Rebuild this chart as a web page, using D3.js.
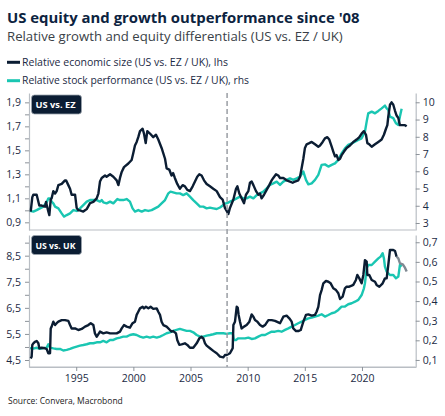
<!DOCTYPE html>
<html>
<head>
<meta charset="utf-8">
<script src="https://cdn.jsdelivr.net/npm/d3@7"></script>
<style>
  body { margin: 0; background: #fff; }
  svg { display: block; }
  text { font-family: "Open Sans", "Noto Sans", sans-serif; }
</style>
</head>
<body>
<script>
const width = 445;
const height = 416;

// colours
const navy = "#0b1d33";
const teal = "#1ac6b2";
const axisGrey = "#b9bec4";

// US vs EZ, relative economic size (lhs)
const ezSize = [
  [1991.02, 0.99], [1991.16, 1.11], [1991.25, 1.13], [1991.54, 1.13], [1991.77, 1.04], [1991.98, 1.04],
  [1992.27, 1.03], [1992.36, 1.07], [1992.56, 0.99], [1992.65, 0.96], [1992.77, 1.09], [1992.85, 1.10],
  [1993.00, 1.16], [1993.15, 1.14], [1993.29, 1.16], [1993.44, 1.21], [1993.73, 1.22], [1994.02, 1.25],
  [1994.11, 1.25], [1994.31, 1.21], [1994.46, 1.18], [1994.60, 1.13], [1994.90, 1.13], [1995.04, 1.02],
  [1995.19, 1.00], [1995.33, 1.00], [1995.62, 0.99], [1995.77, 1.00], [1995.92, 1.01], [1996.21, 1.06],
  [1996.50, 1.07], [1996.79, 1.10], [1996.94, 1.14], [1997.08, 1.24], [1997.23, 1.27], [1997.52, 1.29],
  [1997.66, 1.28], [1997.96, 1.30], [1998.25, 1.28], [1998.54, 1.25], [1998.69, 1.21], [1998.83, 1.27],
  [1998.98, 1.32], [1999.18, 1.36], [1999.56, 1.39], [1999.85, 1.42], [2000.00, 1.48], [2000.14, 1.54],
  [2000.29, 1.57], [2000.43, 1.61], [2000.58, 1.66], [2000.81, 1.68], [2000.93, 1.64], [2001.08, 1.56],
  [2001.22, 1.66], [2001.45, 1.64], [2001.74, 1.61], [2001.98, 1.63], [2002.18, 1.59], [2002.47, 1.52],
  [2002.77, 1.43], [2002.91, 1.35], [2003.14, 1.34], [2003.34, 1.29], [2003.48, 1.31], [2003.63, 1.27],
  [2003.84, 1.22], [2004.07, 1.18], [2004.31, 1.21], [2004.51, 1.20], [2004.72, 1.17], [2004.95, 1.16],
  [2005.19, 1.20], [2005.39, 1.24], [2005.59, 1.28], [2005.77, 1.30], [2005.97, 1.29], [2006.18, 1.25],
  [2006.41, 1.22], [2006.70, 1.20], [2006.99, 1.18], [2007.29, 1.16], [2007.58, 1.11], [2007.81, 1.09],
  [2008.01, 1.02], [2008.31, 0.97], [2008.45, 1.02], [2008.75, 1.09], [2008.98, 1.18], [2009.10, 1.20],
  [2009.27, 1.14], [2009.47, 1.10], [2009.68, 1.06], [2009.85, 1.13], [2010.06, 1.16], [2010.20, 1.23],
  [2010.35, 1.24], [2010.50, 1.21], [2010.73, 1.16], [2010.93, 1.13], [2011.08, 1.14], [2011.22, 1.10],
  [2011.43, 1.13], [2011.66, 1.17], [2011.89, 1.21], [2012.10, 1.25], [2012.24, 1.27], [2012.48, 1.30],
  [2012.68, 1.29], [2012.83, 1.27], [2013.12, 1.27], [2013.41, 1.25], [2013.70, 1.24], [2013.94, 1.23],
  [2014.14, 1.24], [2014.43, 1.25], [2014.58, 1.28], [2014.72, 1.35], [2014.87, 1.43], [2015.01, 1.52],
  [2015.16, 1.55], [2015.39, 1.56], [2015.60, 1.57], [2015.89, 1.55], [2016.18, 1.53], [2016.33, 1.54],
  [2016.56, 1.57], [2016.76, 1.60], [2016.97, 1.61], [2017.14, 1.59], [2017.35, 1.53], [2017.49, 1.49],
  [2017.64, 1.45], [2017.78, 1.46], [2017.93, 1.42], [2018.08, 1.43], [2018.22, 1.46], [2018.43, 1.49],
  [2018.66, 1.52], [2018.95, 1.54], [2019.24, 1.57], [2019.53, 1.59], [2019.77, 1.61], [2019.97, 1.64],
  [2020.17, 1.66], [2020.35, 1.63], [2020.47, 1.56], [2020.64, 1.55], [2020.85, 1.53], [2021.14, 1.55],
  [2021.43, 1.57], [2021.72, 1.59], [2021.92, 1.63], [2022.10, 1.68], [2022.22, 1.71], [2022.30, 1.78],
  [2022.45, 1.88], [2022.59, 1.90], [2022.74, 1.88], [2022.89, 1.83], [2023.03, 1.79], [2023.18, 1.77],
  [2023.32, 1.71], [2023.56, 1.71], [2023.76, 1.71], [2023.91, 1.70]
];

// US vs EZ, relative stock performance (rhs)
const ezStock = [
  [1990.96, 3.70], [1991.25, 3.66], [1991.54, 3.75], [1991.83, 3.85], [1992.12, 3.95], [1992.42, 4.20],
  [1992.56, 4.43], [1992.71, 4.43], [1992.85, 4.24], [1993.00, 4.14], [1993.15, 3.95], [1993.44, 3.85],
  [1993.73, 3.56], [1993.93, 3.37], [1994.17, 3.46], [1994.46, 3.56], [1994.75, 3.75], [1995.04, 3.70],
  [1995.33, 3.85], [1995.62, 4.04], [1995.92, 4.24], [1996.21, 4.33], [1996.50, 4.33], [1996.79, 4.33],
  [1997.08, 4.24], [1997.23, 4.33], [1997.37, 4.20], [1997.66, 4.14], [1997.96, 4.24], [1998.25, 4.14],
  [1998.39, 4.24], [1998.60, 4.39], [1998.83, 4.33], [1999.12, 4.33], [1999.41, 4.39], [1999.70, 4.24],
  [1999.93, 3.85], [2000.14, 3.66], [2000.43, 3.75], [2000.73, 3.66], [2001.02, 3.75], [2001.31, 3.70],
  [2001.60, 3.75], [2001.89, 3.85], [2002.18, 3.95], [2002.47, 4.14], [2002.77, 4.33], [2003.06, 4.72],
  [2003.25, 4.82], [2003.48, 4.78], [2003.78, 4.72], [2004.07, 4.72], [2004.36, 4.62], [2004.66, 4.72],
  [2004.95, 4.53], [2005.24, 4.33], [2005.54, 4.14], [2005.83, 3.95], [2006.12, 3.95], [2006.41, 3.85],
  [2006.70, 3.89], [2006.99, 3.85], [2007.29, 3.81], [2007.58, 3.90], [2007.87, 4.04], [2008.01, 4.14],
  [2008.16, 4.14], [2008.45, 4.24], [2008.75, 4.33], [2009.04, 4.43], [2009.33, 4.53], [2009.62, 4.43],
  [2009.91, 4.43], [2010.20, 4.53], [2010.50, 4.43], [2010.79, 4.62], [2011.08, 4.72], [2011.37, 4.82],
  [2011.66, 5.01], [2011.95, 5.21], [2012.24, 5.30], [2012.54, 5.40], [2012.83, 5.21], [2013.12, 5.40],
  [2013.41, 5.50], [2013.70, 5.59], [2013.99, 5.50], [2014.29, 5.59], [2014.58, 5.69], [2014.87, 5.98],
  [2015.10, 5.50], [2015.31, 5.24], [2015.60, 5.30], [2015.89, 5.50], [2016.18, 5.79], [2016.47, 6.37],
  [2016.76, 6.40], [2017.06, 6.27], [2017.35, 6.37], [2017.64, 6.46], [2017.93, 6.66], [2018.22, 7.04],
  [2018.51, 7.33], [2018.80, 7.53], [2019.10, 7.62], [2019.39, 7.72], [2019.68, 7.82], [2019.97, 7.91],
  [2020.26, 8.30], [2020.41, 8.88], [2020.55, 9.36], [2020.85, 9.46], [2021.14, 9.36], [2021.43, 9.50],
  [2021.72, 9.65], [2022.01, 9.81], [2022.16, 9.65], [2022.30, 9.56], [2022.45, 9.17], [2022.74, 9.08],
  [2022.97, 8.78], [2023.18, 8.69], [2023.32, 9.17], [2023.47, 9.62]
];

// US vs UK, relative economic size (lhs)
const ukSize = [
  [1991.02, 4.56], [1991.10, 4.63], [1991.16, 5.08], [1991.25, 5.14], [1991.40, 5.20], [1991.54, 5.23],
  [1991.69, 5.14], [1991.77, 4.95], [1991.98, 4.97], [1992.27, 4.95], [1992.42, 4.92], [1992.56, 4.76],
  [1992.71, 4.76], [1992.77, 5.71], [1992.85, 5.78], [1993.00, 5.97], [1993.15, 5.84], [1993.29, 5.91],
  [1993.44, 5.97], [1993.73, 6.03], [1994.02, 6.03], [1994.31, 6.00], [1994.46, 5.84], [1994.60, 5.71],
  [1994.90, 5.71], [1995.19, 5.65], [1995.48, 5.69], [1995.77, 5.78], [1996.06, 5.84], [1996.27, 5.91],
  [1996.50, 5.84], [1996.64, 5.52], [1996.79, 5.39], [1997.08, 5.59], [1997.37, 5.52], [1997.66, 5.56],
  [1997.96, 5.52], [1998.25, 5.52], [1998.54, 5.52], [1998.83, 5.59], [1998.98, 5.71], [1999.18, 5.84],
  [1999.41, 5.78], [1999.70, 5.74], [1999.93, 5.91], [2000.14, 5.97], [2000.29, 6.23], [2000.43, 6.35],
  [2000.58, 6.48], [2000.81, 6.54], [2000.93, 6.48], [2001.10, 6.54], [2001.31, 6.48], [2001.51, 6.54],
  [2001.74, 6.46], [2002.04, 6.48], [2002.18, 6.35], [2002.33, 6.23], [2002.47, 5.97], [2002.62, 5.84],
  [2002.91, 5.78], [2003.20, 5.65], [2003.34, 5.59], [2003.48, 5.61], [2003.73, 5.52], [2003.84, 5.27],
  [2004.02, 5.08], [2004.22, 5.10], [2004.51, 5.14], [2004.72, 5.08], [2004.95, 4.97], [2005.24, 4.97],
  [2005.54, 5.14], [2005.77, 5.33], [2005.97, 5.39], [2006.12, 5.33], [2006.27, 5.14], [2006.41, 5.05],
  [2006.70, 4.95], [2006.99, 4.85], [2007.29, 4.76], [2007.58, 4.63], [2007.87, 4.60], [2008.01, 4.69],
  [2008.16, 4.69], [2008.45, 4.76], [2008.60, 4.88], [2008.69, 4.95], [2008.75, 5.84], [2008.89, 5.97],
  [2009.04, 6.54], [2009.13, 6.51], [2009.21, 6.23], [2009.33, 5.97], [2009.47, 5.71], [2009.68, 5.78],
  [2009.91, 5.84], [2010.15, 5.97], [2010.35, 6.25], [2010.50, 6.16], [2010.64, 6.03], [2010.85, 5.97],
  [2011.08, 5.84], [2011.31, 5.78], [2011.52, 5.84], [2011.81, 6.03], [2012.10, 6.03], [2012.39, 6.00],
  [2012.68, 5.94], [2012.83, 5.91], [2013.12, 6.16], [2013.41, 6.20], [2013.64, 6.10], [2013.85, 5.97],
  [2013.99, 5.71], [2014.23, 5.61], [2014.43, 5.61], [2014.64, 5.65], [2014.87, 5.97], [2015.10, 6.23],
  [2015.31, 6.25], [2015.60, 6.20], [2015.89, 6.23], [2016.03, 6.35], [2016.18, 6.54], [2016.33, 6.99],
  [2016.47, 7.18], [2016.62, 7.44], [2016.85, 7.53], [2017.06, 7.50], [2017.26, 7.44], [2017.49, 7.25],
  [2017.73, 7.18], [2017.93, 7.06], [2018.08, 6.84], [2018.31, 6.93], [2018.51, 7.25], [2018.66, 7.31],
  [2018.89, 7.31], [2019.10, 7.35], [2019.24, 7.38], [2019.47, 7.57], [2019.59, 7.76], [2019.77, 7.63],
  [2019.97, 7.44], [2020.12, 7.76], [2020.26, 8.33], [2020.41, 8.27], [2020.47, 7.76], [2020.64, 7.76],
  [2020.85, 7.57], [2021.14, 7.50], [2021.28, 7.38], [2021.52, 7.31], [2021.81, 7.44], [2022.01, 7.63],
  [2022.16, 7.63], [2022.30, 8.14], [2022.45, 8.72], [2022.74, 8.72], [2022.89, 8.68], [2023.03, 8.46],
  [2023.18, 8.40], [2023.32, 8.21], [2023.56, 8.17], [2023.76, 8.04], [2023.91, 7.89]
];
const ukSizeGreyFrom = 2023.03;

// US vs UK, relative stock performance (rhs)
const ukStock = [
  [1990.96, 0.160], [1991.25, 0.158], [1991.54, 0.162], [1991.83, 0.157], [1992.12, 0.160], [1992.42, 0.163],
  [1992.56, 0.180], [1992.71, 0.163], [1993.00, 0.159], [1993.29, 0.156], [1993.58, 0.156], [1993.87, 0.148],
  [1994.17, 0.151], [1994.46, 0.156], [1994.75, 0.163], [1995.04, 0.168], [1995.33, 0.173], [1995.62, 0.176],
  [1995.92, 0.180], [1996.21, 0.185], [1996.50, 0.185], [1996.79, 0.190], [1997.08, 0.190], [1997.37, 0.197],
  [1997.66, 0.190], [1997.96, 0.202], [1998.25, 0.202], [1998.54, 0.210], [1998.83, 0.214], [1999.12, 0.219],
  [1999.41, 0.219], [1999.70, 0.227], [2000.00, 0.231], [2000.29, 0.227], [2000.58, 0.219], [2000.87, 0.214],
  [2001.16, 0.219], [2001.45, 0.214], [2001.74, 0.219], [2002.04, 0.214], [2002.33, 0.219], [2002.62, 0.227],
  [2002.91, 0.236], [2003.20, 0.241], [2003.48, 0.248], [2003.78, 0.253], [2004.07, 0.258], [2004.36, 0.253],
  [2004.66, 0.248], [2004.95, 0.248], [2005.24, 0.241], [2005.54, 0.227], [2005.83, 0.219], [2006.12, 0.219],
  [2006.41, 0.224], [2006.70, 0.227], [2006.99, 0.231], [2007.29, 0.236], [2007.58, 0.236], [2007.87, 0.236],
  [2008.16, 0.233], [2008.45, 0.236], [2008.69, 0.236], [2008.80, 0.202], [2008.98, 0.202], [2009.18, 0.210],
  [2009.47, 0.210], [2009.77, 0.210], [2010.06, 0.214], [2010.35, 0.207], [2010.64, 0.210], [2010.93, 0.219],
  [2011.22, 0.227], [2011.52, 0.227], [2011.81, 0.236], [2012.10, 0.244], [2012.39, 0.244], [2012.68, 0.248],
  [2012.97, 0.244], [2013.27, 0.253], [2013.56, 0.261], [2013.85, 0.270], [2014.14, 0.278], [2014.43, 0.287],
  [2014.72, 0.295], [2015.01, 0.304], [2015.31, 0.312], [2015.60, 0.316], [2015.89, 0.321], [2016.18, 0.326],
  [2016.47, 0.333], [2016.76, 0.321], [2017.06, 0.329], [2017.35, 0.338], [2017.64, 0.343], [2017.93, 0.355],
  [2018.22, 0.372], [2018.51, 0.372], [2018.80, 0.384], [2019.10, 0.389], [2019.39, 0.397], [2019.68, 0.406],
  [2019.97, 0.431], [2020.17, 0.465], [2020.26, 0.491], [2020.41, 0.567], [2020.55, 0.584], [2020.85, 0.584],
  [2021.14, 0.601], [2021.43, 0.618], [2021.63, 0.627], [2021.81, 0.644], [2021.92, 0.618], [2022.01, 0.576],
  [2022.16, 0.550], [2022.30, 0.542], [2022.45, 0.533], [2022.74, 0.533], [2022.97, 0.516], [2023.18, 0.525],
  [2023.32, 0.584], [2023.47, 0.576]
];

// ticks
const yearTicks = [1995, 2000, 2005, 2010, 2015, 2020];
const ezLeftTicks = [0.9, 1.0, 1.1, 1.2, 1.3, 1.4, 1.5, 1.6, 1.7, 1.8, 1.9];
const ezLeftLabels = [0.9, 1.1, 1.3, 1.5, 1.7, 1.9];
const ezRightTicks = [3, 4, 5, 6, 7, 8, 9, 10];
const ukLeftTicks = [4.5, 5.0, 5.5, 6.0, 6.5, 7.0, 7.5, 8.0, 8.5, 9.0];
const ukLeftLabels = [4.5, 5.5, 6.5, 7.5, 8.5];
const ukRightTicks = [0.1, 0.2, 0.3, 0.4, 0.5, 0.6, 0.7];
const crisisYear = 2008.2;

const locale = d3.formatLocale({decimal: ",", thousands: ".", grouping: [3], currency: ["", ""]});
const fmt1 = locale.format(".1f");

const svg = d3.select("body").append("svg")
    .attr("width", width)
    .attr("height", height);

// 把文字缩放到目标宽度
function fitWidth(sel, target) {
    let fs = parseFloat(sel.attr("font-size"));
    let len = sel.node().getComputedTextLength();
    sel.attr("font-size", (fs * target / len).toFixed(2));
}

// header
fitWidth(svg.append("text").attr("x", 7).attr("y", 22.5)
    .attr("font-size", 17).attr("font-weight", 700).attr("fill", "#0c2340")
    .text("US equity and growth outperformance since '08"), 353);

fitWidth(svg.append("text").attr("x", 7).attr("y", 40.8)
    .attr("font-size", 14).attr("fill", "#3a3f47")
    .text("Relative growth and equity differentials (US vs. EZ / UK)"), 336);

const legendItems = [
    {label: "Relative economic size (US vs. EZ / UK), lhs", color: navy, y: 62.3, w: 206},
    {label: "Relative stock performance (US vs. EZ / UK), rhs", color: teal, y: 80.7, w: 227}
];
legendItems.forEach(d => {
    svg.append("line").attr("x1", 7).attr("x2", 20).attr("y1", d.y).attr("y2", d.y)
        .attr("stroke", d.color).attr("stroke-width", 3);
    fitWidth(svg.append("text").attr("x", 22).attr("y", d.y + 3.6)
        .attr("font-size", 11).attr("fill", "#1b2a44").text(d.label), d.w);
});

// x scale shared by both panels
const x = d3.scaleLinear().domain([1990.87, 2024.7]).range([29, 415.7]);

const panels = [
    {name: "US vs. EZ", top: 93, bottom: 230, size: ezSize, stock: ezStock,
     left: [0.836, 1.978], right: [2.594, 10.539],
     leftTicks: ezLeftTicks, leftLabels: ezLeftLabels, rightTicks: ezRightTicks,
     rightFmt: d3.format("d"), boxY: 95},
    {name: "US vs. UK", top: 235, bottom: 367, size: ukSize, stock: ukStock,
     left: [4.232, 9.293], right: [0.064, 0.737],
     leftTicks: ukLeftTicks, leftLabels: ukLeftLabels, rightTicks: ukRightTicks,
     rightFmt: fmt1, boxY: 235.5, xAxis: true}
];

panels.forEach(p => {
    let yL = d3.scaleLinear().domain(p.left).range([p.bottom, p.top]);
    let yR = d3.scaleLinear().domain(p.right).range([p.bottom, p.top]);
    let g = svg.append("g");

    // bottom line of panel
    g.append("line").attr("x1", x.range()[0]).attr("x2", x.range()[1])
        .attr("y1", p.bottom).attr("y2", p.bottom)
        .attr("stroke", axisGrey).attr("stroke-width", 1.2);

    let axL = g.append("g").attr("transform", "translate(29,0)")
        .call(d3.axisLeft(yL).tickValues(p.leftTicks).tickSize(4).tickSizeOuter(0)
            .tickFormat(d => p.leftLabels.some(v => Math.abs(v - d) < 1e-6) ? fmt1(d) : ""));
    let axR = g.append("g").attr("transform", "translate(415.7,0)")
        .call(d3.axisRight(yR).tickValues(p.rightTicks).tickSize(4).tickSizeOuter(0)
            .tickFormat(p.rightFmt));
    [axL, axR].forEach(ax => {
        ax.select(".domain").attr("stroke", axisGrey).attr("stroke-width", 1.2);
        ax.selectAll(".tick line").attr("stroke", "#8d939a");
        ax.selectAll(".tick text").attr("fill", "#1b2a44")
            .style("font-size", "10.5px").style("font-family", "'Open Sans', sans-serif");
    });
    axL.selectAll(".tick text").attr("x", -8);
    axR.selectAll(".tick text").attr("x", 7);

    if (p.xAxis) {
        let axX = g.append("g").attr("transform", `translate(0,${p.bottom})`)
            .call(d3.axisBottom(x).tickValues(yearTicks).tickSize(4).tickSizeOuter(0)
                .tickFormat(d3.format("d")));
        axX.select(".domain").attr("stroke", axisGrey).attr("stroke-width", 1.2);
        axX.selectAll(".tick line").attr("stroke", "#8d939a");
        axX.selectAll(".tick text").attr("fill", "#1b2a44").attr("y", 8)
            .style("font-size", "10.5px").style("font-family", "'Open Sans', sans-serif");
    }

    let lineR = d3.line().x(d => x(d[0])).y(d => yR(d[1]));
    let lineL = d3.line().x(d => x(d[0])).y(d => yL(d[1]));

    g.append("path").datum(p.stock).attr("d", lineR)
        .attr("fill", "none").attr("stroke", teal).attr("stroke-width", 2.4)
        .attr("stroke-linejoin", "round");

    if (p.name === "US vs. UK") {
        g.append("path").datum(p.size.filter(d => d[0] <= ukSizeGreyFrom)).attr("d", lineL)
            .attr("fill", "none").attr("stroke", navy).attr("stroke-width", 2.4)
            .attr("stroke-linejoin", "round");
        g.append("path").datum(p.size.filter(d => d[0] >= ukSizeGreyFrom)).attr("d", lineL)
            .attr("fill", "none").attr("stroke", "#7f8992").attr("stroke-width", 2.4)
            .attr("stroke-linejoin", "round");
    } else {
        g.append("path").datum(p.size).attr("d", lineL)
            .attr("fill", "none").attr("stroke", navy).attr("stroke-width", 2.4)
            .attr("stroke-linejoin", "round");
    }

    // panel tag
    g.append("rect").attr("x", 31.5).attr("y", p.boxY).attr("width", 50).attr("height", 19)
        .attr("rx", 3).attr("fill", navy).attr("stroke", "#9aa3ad").attr("stroke-width", 0.8);
    fitWidth(g.append("text").attr("x", 35.5).attr("y", p.boxY + 13.3)
        .attr("font-size", 10.5).attr("font-weight", 700).attr("fill", "#fff").text(p.name), 40);
});

// dashed GFC marker
svg.append("line")
    .attr("x1", x(crisisYear)).attr("x2", x(crisisYear))
    .attr("y1", 93).attr("y2", 367)
    .attr("stroke", "#9a9ea4").attr("stroke-width", 1.5)
    .attr("stroke-dasharray", "5,3");

fitWidth(svg.append("text").attr("x", 8).attr("y", 403.5)
    .attr("font-size", 10).attr("fill", "#222")
    .text("Source: Convera, Macrobond"), 115);
</script>
</body>
</html>
